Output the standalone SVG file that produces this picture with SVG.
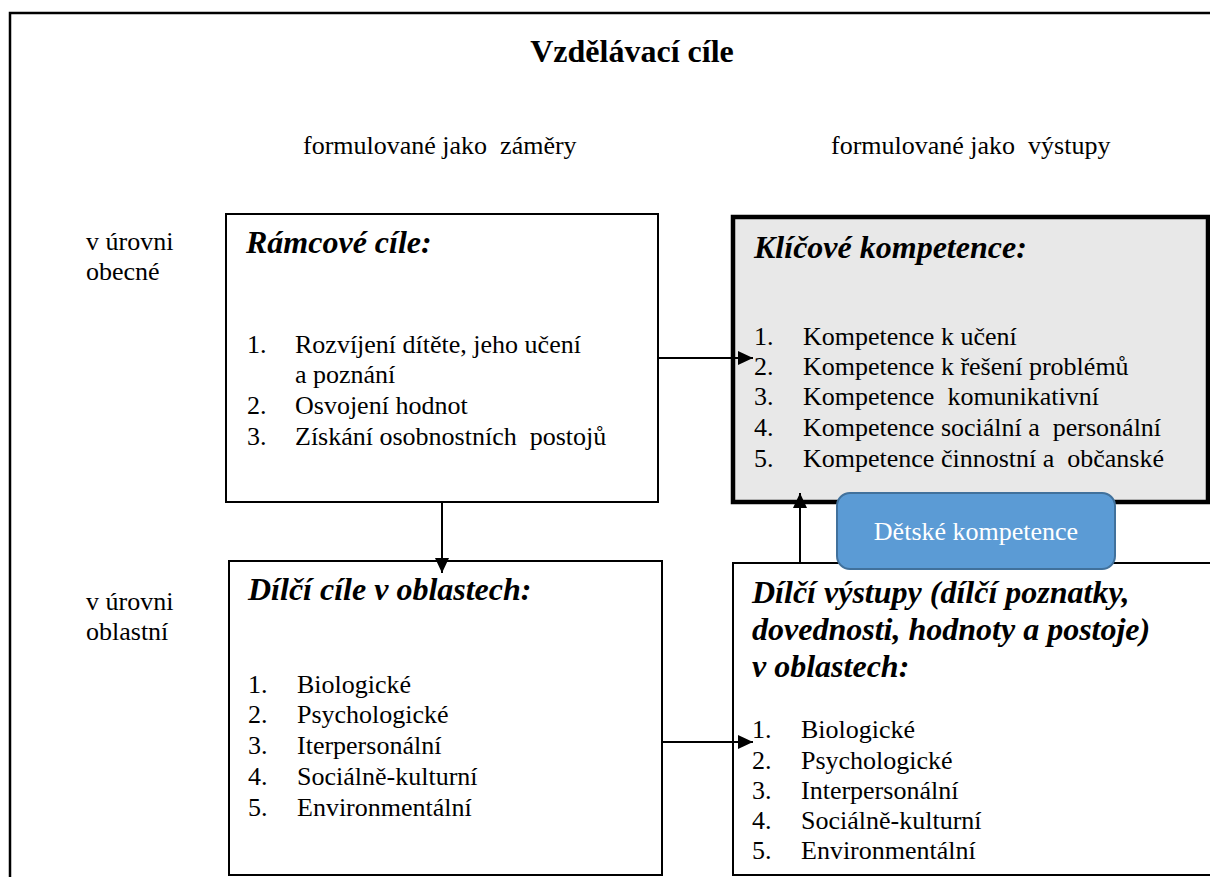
<svg xmlns="http://www.w3.org/2000/svg" width="1210" height="877" viewBox="0 0 1210 877" font-family="'Liberation Serif', 'Times New Roman', serif">
<defs>
<style>
text{font-family:"Liberation Serif",serif;fill:#000}
.t{font-size:26px;font-weight:normal;font-style:normal}
.h{font-size:32px;font-weight:bold;font-style:italic}
.title{font-size:32px;font-weight:bold}
.box{fill:#fff;stroke:#000;stroke-width:2}
.conn{stroke:#000;stroke-width:2;fill:none;marker-end:url(#ah)}
</style>
<marker id="ah" markerUnits="userSpaceOnUse" markerWidth="16" markerHeight="16" viewBox="0 0 16 16" refX="15" refY="8" orient="auto">
<path d="M0,1 L15,8 L0,15 Z" fill="#000"/>
</marker>
</defs>
<rect width="1210" height="877" fill="#fff"/>
<path d="M10,877 V13 H1210" fill="none" stroke="#000" stroke-width="2.5"/>
<g id="headers" font-family="Liberation Serif, serif">
<text class="title" x="632" y="62" text-anchor="middle">Vzdělávací cíle</text>
<text class="t" x="303" y="154" xml:space="preserve">formulované jako  záměry</text>
<text class="t" x="831" y="154" xml:space="preserve">formulované jako  výstupy</text>
<text class="t" x="86" y="250">v úrovni</text>
<text class="t" x="86" y="280">obecné</text>
<text class="t" x="86" y="610">v úrovni</text>
<text class="t" x="86" y="640">oblastní</text>
</g>
<g id="ramcove" font-family="Liberation Serif, serif">
<rect class="box" x="226" y="214" width="432" height="288"/>
<text class="h" x="246" y="253">Rámcové cíle:</text>
<text class="t" x="247" y="353">1.</text><text class="t" x="295" y="353">Rozvíjení dítěte, jeho učení</text>
<text class="t" x="295" y="383">a poznání</text>
<text class="t" x="247" y="414">2.</text><text class="t" x="295" y="414">Osvojení hodnot</text>
<text class="t" x="247" y="445">3.</text><text class="t" x="295" y="445" xml:space="preserve">Získání osobnostních  postojů</text>
</g>
<g id="klicove" font-family="Liberation Serif, serif">
<rect x="733" y="217" width="475" height="285" fill="#e8e8e8" stroke="#000" stroke-width="4.5"/>
<text class="h" x="754" y="258">Klíčové kompetence:</text>
<text class="t" x="754" y="345">1.</text><text class="t" x="803" y="345">Kompetence k učení</text>
<text class="t" x="754" y="375">2.</text><text class="t" x="803" y="375">Kompetence k řešení problémů</text>
<text class="t" x="754" y="405">3.</text><text class="t" x="803" y="405" xml:space="preserve">Kompetence  komunikativní</text>
<text class="t" x="754" y="436">4.</text><text class="t" x="803" y="436" xml:space="preserve">Kompetence sociální a  personální</text>
<text class="t" x="754" y="467">5.</text><text class="t" x="803" y="467" xml:space="preserve">Kompetence činnostní a  občanské</text>
</g>
<g id="dilci-cile" font-family="Liberation Serif, serif">
<rect class="box" x="229" y="561" width="433" height="314"/>
<text class="h" x="248" y="600">Dílčí cíle v oblastech:</text>
<text class="t" x="248" y="693">1.</text><text class="t" x="297" y="693">Biologické</text>
<text class="t" x="248" y="723">2.</text><text class="t" x="297" y="723">Psychologické</text>
<text class="t" x="248" y="754">3.</text><text class="t" x="297" y="754">Iterpersonální</text>
<text class="t" x="248" y="785">4.</text><text class="t" x="297" y="785">Sociálně-kulturní</text>
<text class="t" x="248" y="816">5.</text><text class="t" x="297" y="816">Environmentální</text>
</g>
<g id="dilci-vystupy" font-family="Liberation Serif, serif">
<rect class="box" x="733" y="563" width="490" height="312"/>
<text class="h" x="752" y="603">Dílčí výstupy (dílčí poznatky,</text>
<text class="h" x="752" y="640">dovednosti, hodnoty a postoje)</text>
<text class="h" x="752" y="677">v oblastech:</text>
<text class="t" x="752" y="738">1.</text><text class="t" x="801" y="738">Biologické</text>
<text class="t" x="752" y="769">2.</text><text class="t" x="801" y="769">Psychologické</text>
<text class="t" x="752" y="799">3.</text><text class="t" x="801" y="799">Interpersonální</text>
<text class="t" x="752" y="829">4.</text><text class="t" x="801" y="829">Sociálně-kulturní</text>
<text class="t" x="752" y="859">5.</text><text class="t" x="801" y="859">Environmentální</text>
</g>
<g id="connectors">
<line class="conn" x1="658" y1="358" x2="753" y2="358"/>
<line class="conn" x1="442" y1="502" x2="442" y2="573"/>
<line class="conn" x1="662" y1="742" x2="753" y2="742"/>
<line class="conn" x1="800" y1="563" x2="800" y2="493"/>
</g>
<g id="detske" font-family="Liberation Serif, serif">
<rect x="837" y="493" width="278" height="76" rx="13" ry="13" fill="#5b9bd5" stroke="#41719c" stroke-width="2"/>
<text class="t" x="976" y="540" text-anchor="middle" style="fill:#fff">Dětské kompetence</text>
</g>
</svg>
